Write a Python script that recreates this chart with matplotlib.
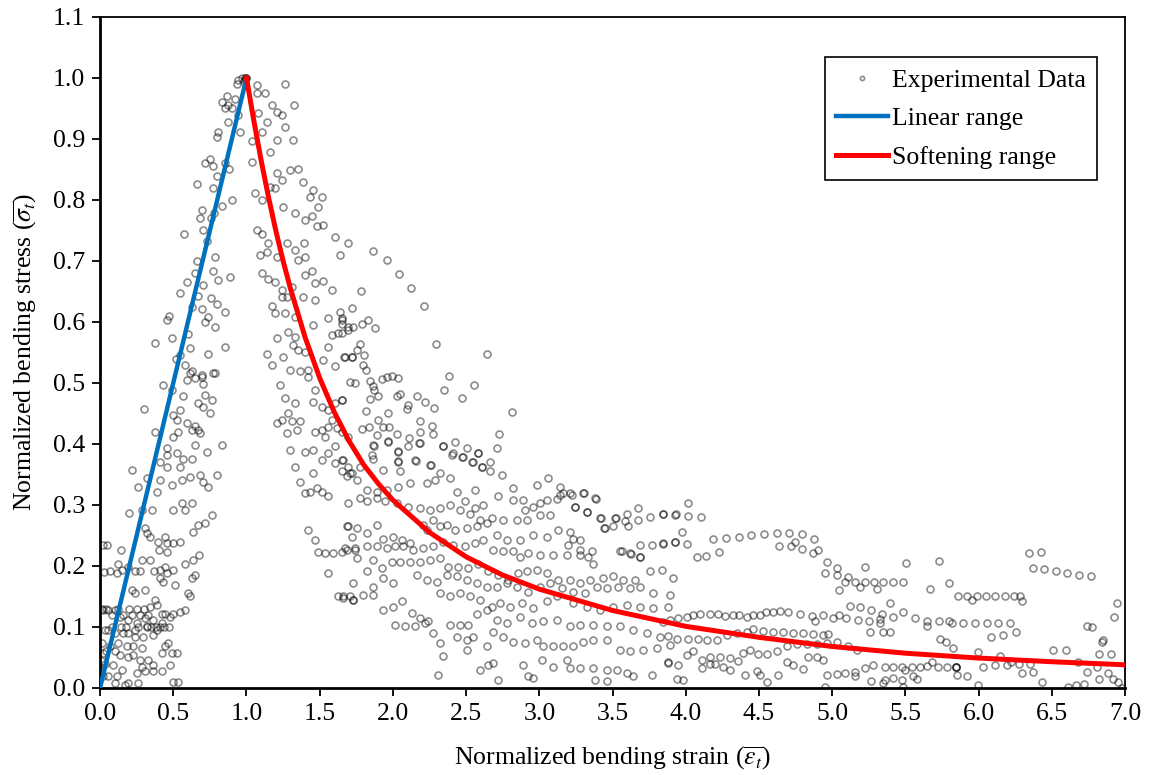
import numpy as np
import matplotlib
matplotlib.use("Agg")
import matplotlib.pyplot as plt

plt.rcParams['font.family'] = ['Liberation Serif', 'DejaVu Serif']
plt.rcParams['mathtext.fontset'] = 'stix'

# experimental points (strain, stress), read off the picture region by region
# rising branch, upper part
rise_top = [
    (0.968, 1.0), (0.945, 0.997), (0.935, 0.99), (0.98, 0.995), (0.99, 1.0), (1.0, 1.0), (1.0, 1.0),
    (0.865, 0.97), (0.83, 0.96), (0.876, 0.956), (0.875, 0.928), (0.806, 0.912), (0.797, 0.904),
    (0.956, 0.912), (0.92, 0.965), (0.90, 0.95), (0.94, 0.94), (0.751, 0.867), (0.774, 0.856),
    (0.66, 0.826), (0.774, 0.819), (0.80, 0.84), (0.85, 0.86), (0.88, 0.85), (0.694, 0.784),
    (0.776, 0.779), (0.76, 0.77), (0.83, 0.79), (0.90, 0.80), (0.576, 0.745), (0.729, 0.732),
    (0.70, 0.75), (0.785, 0.707), (0.774, 0.683), (0.808, 0.669), (0.888, 0.673), (0.649, 0.68),
    (0.592, 0.665), (0.546, 0.647), (0.671, 0.642), (0.626, 0.625), (0.694, 0.622), (0.74, 0.608),
    (0.785, 0.592), (0.854, 0.617), (0.455, 0.603), (0.47, 0.61), (0.376, 0.566), (0.49, 0.573),
    (0.546, 0.546), (0.615, 0.557), (0.74, 0.548), (0.854, 0.559), (0.626, 0.519), (0.694, 0.513),
    (0.785, 0.516), (0.66, 0.70), (0.70, 0.66), (0.72, 0.60), (0.60, 0.58), (0.58, 0.53),
    (0.52, 0.54), (0.80, 0.63), (0.76, 0.64), (0.68, 0.77), (0.72, 0.86), (0.85, 0.95),
]

# rising branch, lower part
rise_low = [
    (0.433, 0.497), (0.49, 0.489), (0.615, 0.516), (0.649, 0.508), (0.694, 0.51), (0.706, 0.499),
    (0.592, 0.505), (0.774, 0.516), (0.569, 0.478), (0.717, 0.48), (0.763, 0.472), (0.672, 0.467),
    (0.706, 0.461), (0.751, 0.45), (0.303, 0.457), (0.546, 0.456), (0.501, 0.448), (0.524, 0.439),
    (0.592, 0.435), (0.626, 0.423), (0.672, 0.423), (0.649, 0.43), (0.683, 0.418), (0.535, 0.42),
    (0.501, 0.412), (0.376, 0.42), (0.455, 0.393), (0.524, 0.385), (0.569, 0.376), (0.626, 0.376),
    (0.649, 0.398), (0.729, 0.387), (0.831, 0.398), (0.546, 0.363), (0.455, 0.382), (0.41, 0.371),
    (0.455, 0.363), (0.221, 0.357), (0.257, 0.33), (0.319, 0.344), (0.387, 0.322), (0.41, 0.341),
    (0.49, 0.333), (0.563, 0.341), (0.615, 0.346), (0.683, 0.349), (0.706, 0.338), (0.74, 0.33),
    (0.797, 0.349), (0.198, 0.287), (0.285, 0.292), (0.353, 0.292), (0.501, 0.292), (0.558, 0.303),
    (0.581, 0.292), (0.626, 0.303), (0.638, 0.256), (0.672, 0.267), (0.717, 0.27), (0.767, 0.284),
    (0.307, 0.262), (0.319, 0.254), (0.342, 0.248), (0.399, 0.24), (0.444, 0.248), (0.455, 0.237),
    (0.501, 0.237), (0.546, 0.24), (0.403, 0.226), (0.285, 0.21), (0.342, 0.21), (0.371, 0.191),
    (0.41, 0.193), (0.444, 0.199), (0.455, 0.223), (0.501, 0.193), (0.455, 0.188), (0.41, 0.18),
    (0.433, 0.174), (0.512, 0.169), (0.581, 0.204), (0.626, 0.18), (0.649, 0.185), (0.678, 0.218),
    (0.638, 0.21), (0.615, 0.15), (0.603, 0.155), (0.546, 0.125), (0.581, 0.128), (0.501, 0.122),
    (0.478, 0.117), (0.444, 0.122), (0.421, 0.106), (0.364, 0.111), (0.319, 0.101), (0.296, 0.084),
    (0.228, 0.068), (0.285, 0.065), (0.194, 0.051), (0.137, 0.054), (0.091, 0.038), (0.034, 0.04),
    (0.057, 0.019), (0.114, 0.019), (0.194, 0.008), (0.262, 0.008), (0.046, 0.234), (0.144, 0.226),
    (0.125, 0.204), (0.068, 0.191), (0.114, 0.188), (0.148, 0.193), (0.194, 0.199), (0.239, 0.191),
    (0.273, 0.191), (0.216, 0.161), (0.239, 0.155), (0.307, 0.161), (0.376, 0.144), (0.342, 0.133),
    (0.387, 0.136), (0.421, 0.122), (0.307, 0.114), (0.251, 0.106), (0.194, 0.111), (0.137, 0.117),
    (0.103, 0.128), (0.057, 0.128), (0.023, 0.128), (0.057, 0.095), (0.103, 0.09), (0.16, 0.09),
    (0.194, 0.09), (0.239, 0.084), (0.239, 0.095), (0.068, 0.068), (0.125, 0.073), (0.182, 0.068),
    (0.228, 0.054), (0.273, 0.046), (0.33, 0.046), (0.364, 0.038), (0.421, 0.057), (0.49, 0.057),
    (0.524, 0.057), (0.478, 0.038), (0.467, 0.073), (0.387, 0.095), (0.364, 0.087), (0.251, 0.024),
    (0.307, 0.027), (0.364, 0.027), (0.421, 0.027), (0.285, 0.035), (0.103, 0.008), (0.171, 0.005),
    (0.501, 0.01), (0.535, 0.01), (0.444, 0.068), (0.012, 0.073), (0.023, 0.057), (0.0, 0.03),
    (0.034, 0.095), (0.02, 0.235), (0.03, 0.19), (0.01, 0.13), (0.04, 0.13), (0.08, 0.12),
    (0.12, 0.13), (0.16, 0.12), (0.2, 0.13), (0.27, 0.12), (0.3, 0.13), (0.08, 0.10), (0.14, 0.10),
    (0.18, 0.10), (0.26, 0.10), (0.32, 0.10), (0.04, 0.06), (0.02, 0.02), (0.015, 0.045),
    (0.35, 0.10), (0.38, 0.10), (0.41, 0.10), (0.44, 0.10), (0.47, 0.10), (0.10, 0.06),
    (0.15, 0.03), (0.22, 0.12), (0.25, 0.13), (0.33, 0.12),
]

# just after the peak
drop_top = [
    (1.263, 0.99), (1.325, 0.955), (1.07, 0.988), (1.07, 0.975), (1.127, 0.975), (1.173, 0.956),
    (1.207, 0.945), (1.24, 0.939), (1.081, 0.942), (1.138, 0.928), (1.263, 0.919), (1.207, 0.898),
    (1.32, 0.898), (1.036, 0.896), (1.104, 0.912), (1.161, 0.879), (1.036, 0.863), (1.207, 0.844),
    (1.297, 0.849), (1.354, 0.85), (1.24, 0.833), (1.388, 0.83), (1.457, 0.816), (1.434, 0.805),
    (1.514, 0.805), (1.491, 0.789), (1.058, 0.811), (1.104, 0.8), (1.161, 0.821), (1.195, 0.819),
    (1.252, 0.789), (1.332, 0.778), (1.4, 0.767), (1.445, 0.773), (1.48, 0.757), (1.525, 0.759),
    (1.605, 0.74), (1.696, 0.729), (1.639, 0.71), (1.07, 0.751), (1.104, 0.745), (1.15, 0.729),
    (1.138, 0.715), (1.093, 0.71), (1.207, 0.707), (1.275, 0.729), (1.332, 0.718), (1.4, 0.707),
    (1.395, 0.73), (1.354, 0.702), (1.104, 0.68), (1.15, 0.671), (1.195, 0.666), (1.24, 0.652),
    (1.309, 0.658), (1.4, 0.677), (1.445, 0.683), (1.468, 0.664), (1.525, 0.667), (1.582, 0.652),
    (1.172, 0.627), (1.195, 0.614), (1.24, 0.641), (1.275, 0.641), (1.263, 0.614), (1.332, 0.608),
    (1.388, 0.641), (1.468, 0.636), (1.559, 0.606), (1.639, 0.617), (1.65, 0.603), (1.719, 0.623),
    (1.457, 0.595), (1.582, 0.579), (1.628, 0.582), (1.696, 0.592), (1.207, 0.573), (1.286, 0.584),
    (1.332, 0.576), (1.32, 0.562), (1.354, 0.554), (1.138, 0.548), (1.252, 0.543), (1.172, 0.529),
    (1.297, 0.521), (1.366, 0.519), (1.423, 0.521), (1.559, 0.559), (1.525, 0.538), (1.605, 0.527),
    (1.673, 0.543), (1.719, 0.543), (1.4, 0.551), (1.867, 0.716), (1.958, 0.701), (2.04, 0.678),
    (2.124, 0.656), (2.213, 0.627), (1.783, 0.65), (1.65, 0.606), (1.65, 0.597), (1.65, 0.582),
    (1.69, 0.587), (1.73, 0.592), (1.787, 0.597), (1.833, 0.603), (1.876, 0.59), (1.776, 0.564),
    (1.753, 0.554), (1.799, 0.546), (1.666, 0.542), (1.719, 0.542), (1.794, 0.53), (1.817, 0.522),
    (2.297, 0.564), (2.64, 0.547), (2.383, 0.512), (2.556, 0.497), (2.349, 0.489), (2.47, 0.475),
    (2.811, 0.452),
]

# softening region between strain 1.2 and 2.9
drop_mid = [
    (1.229, 0.497), (1.264, 0.475), (1.286, 0.45), (1.332, 0.467), (1.207, 0.434), (1.241, 0.439),
    (1.309, 0.437), (1.343, 0.423), (1.366, 0.437), (1.275, 0.418), (1.298, 0.39), (1.332, 0.363),
    (1.366, 0.338), (1.4, 0.387), (1.457, 0.39), (1.4, 0.319), (1.434, 0.322), (1.48, 0.327),
    (1.514, 0.322), (1.559, 0.315), (1.457, 0.352), (1.468, 0.42), (1.514, 0.423), (1.559, 0.428),
    (1.423, 0.259), (1.468, 0.243), (1.491, 0.223), (1.537, 0.221), (1.594, 0.221), (1.65, 0.223),
    (1.685, 0.226), (1.742, 0.226), (1.559, 0.188), (1.628, 0.15), (1.662, 0.147), (1.707, 0.15),
    (1.73, 0.144), (1.423, 0.51), (1.468, 0.489), (1.457, 0.469), (1.514, 0.461), (1.559, 0.456),
    (1.605, 0.467), (1.65, 0.472), (1.582, 0.439), (1.616, 0.426), (1.65, 0.42), (1.696, 0.412),
    (1.605, 0.396), (1.559, 0.385), (1.65, 0.374), (1.696, 0.363), (1.719, 0.352), (1.65, 0.355),
    (1.605, 0.368), (1.537, 0.412), (1.514, 0.374), (1.696, 0.303), (1.696, 0.265), (1.719, 0.248),
    (1.708, 0.502), (1.742, 0.5), (1.84, 0.503), (1.867, 0.495), (1.871, 0.488), (1.924, 0.506),
    (1.958, 0.509), (1.992, 0.512), (2.037, 0.508), (1.65, 0.472), (1.84, 0.473), (1.901, 0.479),
    (2.03, 0.478), (2.049, 0.482), (2.163, 0.478), (2.22, 0.469), (2.277, 0.459), (2.106, 0.464),
    (2.094, 0.457), (1.817, 0.454), (1.901, 0.44), (1.965, 0.45), (2.185, 0.437), (2.267, 0.43),
    (2.272, 0.416), (2.185, 0.42), (2.11, 0.41), (2.03, 0.417), (1.969, 0.405), (1.889, 0.415),
    (1.839, 0.427), (1.787, 0.424), (1.935, 0.428), (1.976, 0.428), (2.106, 0.396), (2.18, 0.402),
    (2.344, 0.396), (2.424, 0.404), (2.503, 0.394), (2.413, 0.385), (2.477, 0.378), (2.583, 0.386),
    (2.545, 0.371), (2.606, 0.363), (2.663, 0.37), (2.727, 0.416), (2.033, 0.388), (2.037, 0.372),
    (2.158, 0.372), (2.258, 0.365), (1.874, 0.397), (1.867, 0.376),
]

# dense cloud between strain 1.6 and 4.0
cloud = [
    (1.867, 0.398), (1.969, 0.404), (2.037, 0.387), (2.185, 0.401), (2.345, 0.396), (2.584, 0.385),
    (2.709, 0.393), (1.855, 0.382), (1.776, 0.363), (1.707, 0.352), (1.662, 0.374), (2.037, 0.371),
    (2.151, 0.374), (2.254, 0.366), (2.402, 0.382), (2.47, 0.379), (2.538, 0.371), (2.607, 0.363),
    (2.663, 0.355), (1.935, 0.357), (2.049, 0.355), (2.288, 0.341), (2.322, 0.352), (2.39, 0.344),
    (2.743, 0.349), (2.823, 0.327), (2.982, 0.333), (3.062, 0.345), (3.141, 0.317), (3.21, 0.319),
    (3.301, 0.32), (3.38, 0.311), (2.561, 0.325), (2.436, 0.322), (2.231, 0.336), (2.117, 0.336),
    (2.037, 0.33), (1.958, 0.325), (1.889, 0.322), (1.821, 0.325), (1.753, 0.341), (1.685, 0.347),
    (1.776, 0.311), (1.821, 0.306), (1.889, 0.311), (1.946, 0.306), (2.026, 0.303), (2.106, 0.297),
    (2.185, 0.295), (2.254, 0.292), (2.322, 0.295), (2.39, 0.3), (2.493, 0.306), (2.561, 0.295),
    (2.618, 0.3), (2.72, 0.314), (2.823, 0.308), (2.891, 0.308), (2.902, 0.292), (2.959, 0.297),
    (3.005, 0.303), (3.05, 0.308), (3.119, 0.309), (3.073, 0.284), (3.005, 0.284), (2.914, 0.276),
    (2.845, 0.276), (2.754, 0.276), (2.675, 0.278), (2.595, 0.276), (2.527, 0.286), (2.458, 0.292),
    (3.244, 0.297), (3.323, 0.289), (3.415, 0.278), (3.449, 0.262), (3.517, 0.278), (3.597, 0.286),
    (3.585, 0.273), (3.608, 0.265), (3.676, 0.295), (3.676, 0.276), (3.756, 0.281), (3.847, 0.286),
    (3.927, 0.284), (3.551, 0.224), (3.619, 0.221), (3.688, 0.234), (3.767, 0.234), (3.847, 0.237),
    (3.927, 0.24), (3.688, 0.215), (1.685, 0.265), (1.753, 0.262), (1.821, 0.254), (1.889, 0.267),
    (1.935, 0.245), (2.003, 0.248), (2.06, 0.243), (2.117, 0.237), (2.208, 0.267), (2.231, 0.259),
    (2.276, 0.275), (2.322, 0.265), (2.367, 0.267), (2.424, 0.259), (2.504, 0.262), (2.572, 0.265),
    (2.641, 0.27), (2.709, 0.251), (2.777, 0.243), (2.868, 0.243), (2.959, 0.251), (3.05, 0.248),
    (3.13, 0.259), (3.21, 0.256), (3.232, 0.245), (3.278, 0.243), (3.198, 0.234), (3.278, 0.226),
    (3.358, 0.224), (3.335, 0.215), (3.369, 0.204), (3.278, 0.218), (3.187, 0.218), (3.096, 0.218),
    (3.005, 0.218), (2.925, 0.221), (2.868, 0.215), (2.823, 0.224), (2.754, 0.224), (2.686, 0.226),
    (2.618, 0.243), (2.561, 0.237), (2.493, 0.232), (2.413, 0.234), (2.345, 0.24), (2.276, 0.232),
    (2.208, 0.229), (2.14, 0.226), (2.072, 0.232), (2.015, 0.232), (1.958, 0.229), (1.889, 0.232),
    (1.821, 0.232), (1.741, 0.229), (1.673, 0.229), (1.753, 0.213), (1.821, 0.191), (1.867, 0.21),
    (1.924, 0.196), (1.992, 0.207), (2.049, 0.207), (2.117, 0.207), (2.185, 0.207), (2.254, 0.21),
    (2.322, 0.213), (2.379, 0.199), (2.447, 0.199), (2.515, 0.196), (2.584, 0.204), (2.652, 0.191),
    (2.72, 0.185), (2.789, 0.177), (2.857, 0.188), (2.914, 0.191), (2.982, 0.194), (3.05, 0.188),
    (3.13, 0.177), (3.21, 0.177), (3.278, 0.172), (3.346, 0.177), (3.437, 0.18), (3.506, 0.183),
    (3.574, 0.177), (3.654, 0.177), (3.756, 0.191), (3.836, 0.194), (3.915, 0.18), (1.73, 0.172),
    (1.935, 0.18), (1.867, 0.166), (2.003, 0.172), (2.163, 0.185), (2.231, 0.177), (2.299, 0.174),
    (2.367, 0.185), (2.436, 0.183), (2.504, 0.177), (2.572, 0.172), (2.641, 0.166), (2.709, 0.166),
    (2.777, 0.172), (2.845, 0.166), (2.925, 0.158), (3.005, 0.166), (3.073, 0.172), (3.153, 0.164),
    (3.232, 0.158), (3.312, 0.155), (3.392, 0.166), (3.46, 0.164), (3.54, 0.166), (3.619, 0.164),
    (3.688, 0.166), (3.779, 0.155), (3.893, 0.153), (1.662, 0.15), (1.73, 0.144), (1.798, 0.153),
    (1.867, 0.153), (1.935, 0.128), (2.003, 0.133), (2.06, 0.142), (2.128, 0.123), (2.185, 0.114),
    (2.242, 0.109), (2.322, 0.155), (2.39, 0.15), (2.458, 0.155), (2.527, 0.15), (2.595, 0.144),
    (2.675, 0.133), (2.732, 0.139), (2.8, 0.133), (2.88, 0.139), (2.959, 0.131), (3.05, 0.142),
    (3.119, 0.15), (3.232, 0.139), (3.323, 0.133), (3.415, 0.128), (3.506, 0.133), (3.597, 0.136),
    (3.688, 0.133), (3.779, 0.131), (3.881, 0.133), (2.015, 0.103), (2.083, 0.101), (2.151, 0.101),
    (2.219, 0.106), (2.39, 0.103), (2.458, 0.103), (2.515, 0.103), (2.572, 0.122), (2.641, 0.128),
    (2.709, 0.112), (2.777, 0.106), (2.868, 0.117), (2.948, 0.106), (3.028, 0.109), (3.119, 0.112),
    (3.21, 0.101), (3.278, 0.103), (3.369, 0.103), (3.46, 0.101), (3.551, 0.101), (3.642, 0.095),
    (3.733, 0.09), (3.824, 0.084), (2.276, 0.09), (2.322, 0.073), (2.345, 0.052), (2.436, 0.084),
    (2.504, 0.079), (2.504, 0.062), (2.549, 0.084), (2.641, 0.068), (2.686, 0.092), (2.754, 0.084),
    (2.823, 0.076), (2.902, 0.073), (2.982, 0.079), (3.028, 0.068), (3.096, 0.068), (3.164, 0.068),
    (3.232, 0.068), (3.301, 0.076), (3.369, 0.079), (3.46, 0.079), (3.551, 0.062), (3.619, 0.06),
    (3.71, 0.062), (3.802, 0.065), (3.893, 0.071), (2.595, 0.03), (2.652, 0.038), (2.686, 0.041),
    (2.891, 0.038), (2.925, 0.019), (2.959, 0.016), (3.016, 0.046), (3.096, 0.035), (3.187, 0.046),
    (3.21, 0.032), (3.278, 0.032), (3.369, 0.032), (3.46, 0.03), (3.528, 0.03), (3.597, 0.024),
    (3.642, 0.019), (3.767, 0.021), (3.881, 0.041), (2.72, 0.013), (2.311, 0.021), (3.38, 0.013),
    (3.46, 0.011), (3.141, 0.33), (3.164, 0.319), (3.221, 0.316), (3.305, 0.32), (3.387, 0.31),
    (3.243, 0.297), (3.328, 0.288), (3.419, 0.278), (3.444, 0.262), (3.505, 0.266), (3.523, 0.279),
    (3.562, 0.225), (3.624, 0.22), (3.687, 0.215),
]

# long tail beyond strain 3.8
tail = [
    (4.017, 0.304), (3.847, 0.286), (3.933, 0.285), (4.017, 0.282), (4.102, 0.28), (3.972, 0.255),
    (3.847, 0.236), (3.926, 0.239), (4.006, 0.236), (4.074, 0.214), (4.138, 0.217), (4.229, 0.223),
    (4.188, 0.244), (4.275, 0.246), (4.361, 0.248), (4.448, 0.25), (4.534, 0.252), (4.621, 0.254),
    (4.707, 0.254), (4.791, 0.252), (4.878, 0.244), (4.746, 0.24), (4.716, 0.233), (4.637, 0.233),
    (4.796, 0.228), (4.871, 0.221), (4.905, 0.226), (4.962, 0.207), (5.03, 0.196), (4.951, 0.189),
    (5.03, 0.185), (5.11, 0.182), (5.087, 0.173), (5.156, 0.173), (5.19, 0.165), (5.222, 0.199),
    (5.224, 0.173), (5.288, 0.173), (5.349, 0.173), (5.413, 0.173), (5.481, 0.174), (5.502, 0.205),
    (5.308, 0.163), (5.049, 0.16), (5.122, 0.135), (5.19, 0.133), (5.265, 0.127), (5.338, 0.121),
    (5.395, 0.14), (5.417, 0.117), (5.481, 0.125), (5.565, 0.115), (5.645, 0.11), (5.732, 0.208),
    (5.795, 0.172), (5.668, 0.162), (5.861, 0.151), (5.923, 0.151), (5.987, 0.151), (6.05, 0.151),
    (6.114, 0.151), (6.18, 0.151), (6.241, 0.151), (6.282, 0.151), (6.294, 0.142), (5.957, 0.145),
    (6.342, 0.222), (6.424, 0.223), (6.374, 0.196), (6.449, 0.195), (6.528, 0.192), (6.606, 0.189),
    (6.688, 0.186), (6.765, 0.184), (6.943, 0.139), (6.924, 0.117), (6.742, 0.101), (6.774, 0.1),
    (6.852, 0.078), (6.84, 0.075), (6.904, 0.056), (6.824, 0.056), (6.597, 0.063), (6.51, 0.063),
    (6.255, 0.091), (6.169, 0.087), (6.082, 0.083), (6.214, 0.106), (6.134, 0.106), (6.055, 0.106),
    (5.975, 0.106), (5.895, 0.106), (5.82, 0.106), (5.795, 0.11), (5.732, 0.11), (5.645, 0.101),
    (5.736, 0.081), (5.777, 0.075), (5.823, 0.065), (5.998, 0.059), (6.146, 0.052), (6.219, 0.042),
    (6.276, 0.039), (6.351, 0.039), (6.681, 0.043), (6.738, 0.026), (6.806, 0.034), (6.824, 0.015),
    (6.886, 0.024), (6.92, 0.014), (6.954, 0.01), (6.977, 0.0), (6.613, 0.002), (6.665, 0.005),
    (6.72, 0.007), (6.43, 0.01), (6.369, 0.026), (6.294, 0.024), (6.191, 0.038), (6.112, 0.038),
    (6.032, 0.035), (5.998, 0.005), (5.918, 0.02), (5.85, 0.021), (5.845, 0.034), (5.845, 0.034),
    (5.845, 0.034), (5.782, 0.035), (5.725, 0.035), (5.679, 0.042), (5.645, 0.036), (5.6, 0.035),
    (5.543, 0.035), (5.474, 0.035), (5.417, 0.035), (5.361, 0.035), (5.281, 0.038), (5.224, 0.033),
    (5.156, 0.026), (5.156, 0.019), (5.087, 0.025), (5.03, 0.023), (4.962, 0.022), (4.951, 0.002),
    (5.263, 0.011), (5.345, 0.008), (5.361, 0.013), (5.417, 0.016), (5.474, 0.013), (5.481, 0.002),
    (5.577, 0.014), (5.554, 0.019), (5.326, 0.113), (5.395, 0.091), (5.326, 0.107), (5.251, 0.11),
    (5.178, 0.112), (5.092, 0.115), (5.046, 0.119), (5.008, 0.115), (4.939, 0.119), (4.883, 0.11),
    (4.86, 0.118), (4.78, 0.121), (4.7, 0.124), (4.643, 0.126), (4.598, 0.125), (4.548, 0.125),
    (4.507, 0.119), (4.461, 0.119), (4.416, 0.117), (4.364, 0.119), (4.32, 0.119), (4.268, 0.118),
    (4.222, 0.121), (4.165, 0.122), (4.097, 0.121), (4.052, 0.119), (4.006, 0.117), (3.949, 0.114),
    (3.892, 0.112), (3.847, 0.108), (3.881, 0.085), (3.938, 0.081), (4.017, 0.081), (4.086, 0.081),
    (4.143, 0.079), (4.211, 0.079), (4.279, 0.087), (4.348, 0.09), (4.416, 0.092), (4.461, 0.096),
    (4.53, 0.094), (4.598, 0.092), (4.666, 0.091), (4.735, 0.09), (4.803, 0.09), (4.871, 0.089),
    (4.939, 0.087), (4.974, 0.089), (4.894, 0.072), (4.826, 0.072), (4.757, 0.072), (4.689, 0.069),
    (4.621, 0.061), (4.552, 0.056), (4.496, 0.055), (4.439, 0.062), (4.393, 0.058), (4.359, 0.044),
    (4.302, 0.049), (4.234, 0.051), (4.165, 0.051), (4.109, 0.046), (4.052, 0.06), (4.006, 0.054),
    (3.949, 0.038), (3.881, 0.042), (3.938, 0.015), (3.983, 0.013), (4.109, 0.033), (4.165, 0.04),
    (4.2, 0.04), (4.257, 0.035), (4.302, 0.03), (4.404, 0.022), (4.484, 0.028), (4.507, 0.021),
    (4.552, 0.01), (4.632, 0.021), (4.689, 0.043), (4.735, 0.038), (4.803, 0.031), (4.837, 0.05),
    (4.894, 0.051), (4.939, 0.046), (4.962, 0.073), (5.03, 0.076), (5.106, 0.069), (5.167, 0.062),
    (5.349, 0.091), (5.497, 0.03), (5.258, 0.092),
]

# model curves
linear_x = [0.0, 1.0]
linear_y = [0.0, 1.0]
soft_x = [1.0, 1.05, 1.1, 1.15, 1.2, 1.25, 1.3, 1.4, 1.5, 1.6, 1.7, 1.8, 1.9, 2.0,
          2.25, 2.5, 2.75, 3.0, 3.5, 4.0, 4.5, 5.0, 5.5, 6.0, 6.5, 7.0]
soft_y = [1.0, 0.93, 0.865, 0.805, 0.75, 0.7, 0.655, 0.575, 0.508, 0.452, 0.405, 0.366,
          0.335, 0.308, 0.255, 0.215, 0.185, 0.162, 0.127, 0.101, 0.083, 0.068, 0.057,
          0.049, 0.043, 0.038]

x_ticks = np.arange(0, 7.01, 0.5)
y_ticks = np.arange(0, 1.101, 0.1)

pts = np.array(rise_top + rise_low + drop_top + drop_mid + cloud + tail)

fig = plt.figure(figsize=(11.54, 7.75), dpi=100)
ax = fig.add_axes([0.0867, 0.1123, 0.8883, 0.8658])

ax.plot(pts[:, 0], pts[:, 1], linestyle="none", marker="o", markersize=5,
        markerfacecolor="none", markeredgecolor=(0, 0, 0, 0.45), markeredgewidth=1.2,
        label="Experimental Data", zorder=2)
ax.plot(linear_x, linear_y, color="#0070C0", linewidth=3.2, label="Linear range", zorder=3)
ax.plot(soft_x, soft_y, color="#FF0000", linewidth=3.6, label="Softening range", zorder=3)

ax.set_xlim(0, 7)
ax.set_ylim(0, 1.1)
ax.set_xticks(x_ticks)
ax.set_yticks(y_ticks)
ax.set_xticklabels(["%.1f" % t for t in x_ticks])
ax.set_yticklabels(["%.1f" % t for t in y_ticks])
ax.tick_params(direction="out", length=6, width=1.3, labelsize=18.5, colors="black", pad=5)

for side in ["left", "bottom"]:
    ax.spines[side].set_linewidth(2.0)
for side in ["top", "right"]:
    ax.spines[side].set_linewidth(1.3)

ax.set_xlabel(r"Normalized bending strain ($\overline{\varepsilon_t}$)", fontsize=18.5, labelpad=14)
ax.set_ylabel(r"Normalized bending stress ($\overline{\sigma_t}$)", fontsize=18.5, labelpad=10)

leg = ax.legend(loc="upper right", bbox_to_anchor=(0.9727, 0.940), borderaxespad=0,
                fontsize=18.5, frameon=True, fancybox=False, edgecolor="black", framealpha=1,
                handlelength=2.0, handletextpad=0.15, borderpad=0.45, labelspacing=0.6,
                markerscale=0.6)
leg.get_frame().set_linewidth(1.2)

fig.savefig("out.png", dpi=100)
